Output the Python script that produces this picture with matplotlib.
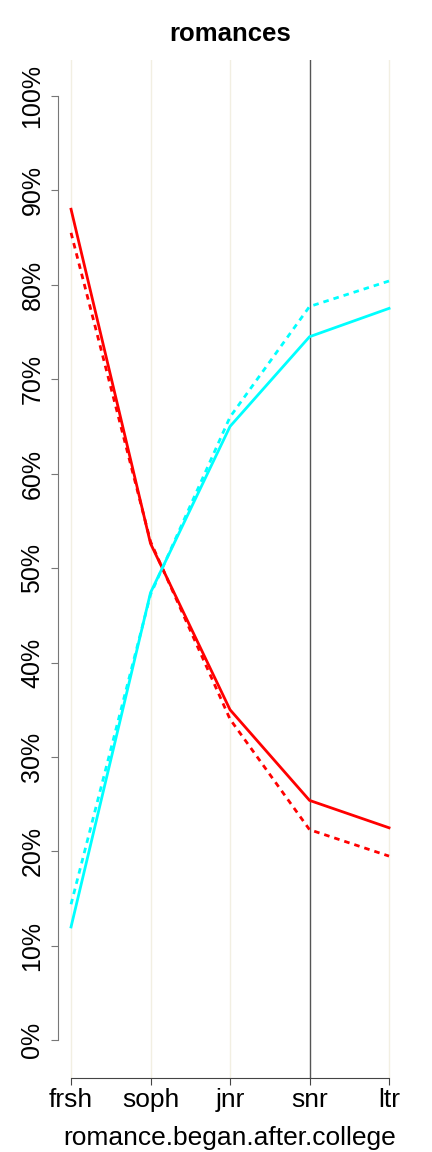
import matplotlib.pyplot as plt

# categories and values
klasser = ["frsh", "soph", "jnr", "snr", "ltr"]
rod_hel = [88.0, 52.6, 35.0, 25.4, 22.5]
rod_prikk = [85.5, 52.8, 34.0, 22.3, 19.5]
cyan_hel = [12.0, 47.4, 65.0, 74.5, 77.5]
cyan_prikk = [14.4, 47.2, 66.0, 77.7, 80.4]
yticks = [0, 10, 20, 30, 40, 50, 60, 70, 80, 90, 100]
ytekst = [str(v) + "%" for v in yticks]

plt.rcParams["font.family"] = ["Liberation Sans", "DejaVu Sans"]

fig = plt.figure(figsize=(4.32, 11.52), dpi=100)
ax = fig.add_axes([0.135, 0.0642, 0.795, 0.8837])

x = list(range(len(klasser)))

# vertikale hjelpelinjer
for i in x:
    if klasser[i] == "snr":
        ax.axvline(i, color="#555555", lw=1.0, zorder=1)
    else:
        ax.axvline(i, color="#F2EFE2", lw=1.0, zorder=1)

ax.plot(x, rod_hel, color="red", lw=2.0, zorder=3)
ax.plot(x, rod_prikk, color="red", lw=2.0, linestyle=(0, (2, 1.8)), zorder=3)
ax.plot(x, cyan_hel, color="cyan", lw=2.0, zorder=3)
ax.plot(x, cyan_prikk, color="cyan", lw=2.0, linestyle=(0, (2, 1.8)), zorder=3)

ax.set_xlim(-0.16, 4.16)
ax.set_ylim(-4.0, 103.8)

ax.set_xticks(x)
ax.set_xticklabels(klasser, fontsize=19)
ax.set_yticks(yticks)
ax.set_yticklabels(ytekst, fontsize=18, rotation=90, va="center")

for s in ["top", "right"]:
    ax.spines[s].set_visible(False)
ax.spines["left"].set_bounds(0, 100)
ax.spines["bottom"].set_bounds(0, 4)
ax.spines["left"].set_color("#777777")
ax.spines["bottom"].set_color("#444444")
ax.tick_params(axis="y", colors="#777777", labelcolor="black", length=5, pad=5)
ax.tick_params(axis="x", colors="#444444", labelcolor="black", length=5, pad=2)

ax.set_xlabel("romance.began.after.college", fontsize=19, labelpad=10)
ax.set_title("romances", fontsize=18.5, fontweight="bold", pad=14)

fig.savefig("out.png", dpi=100)
